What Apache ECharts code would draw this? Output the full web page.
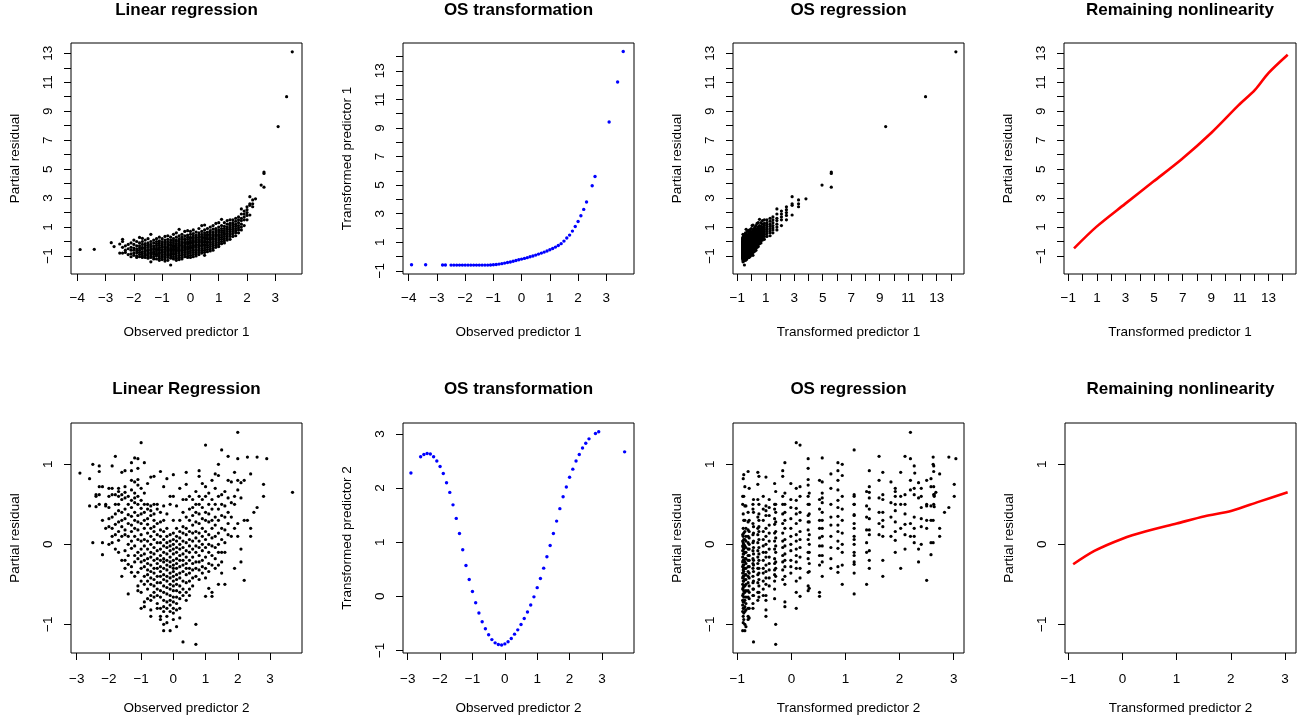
<!DOCTYPE html>
<html><head><meta charset="utf-8">
<script src="https://cdn.jsdelivr.net/npm/echarts@6/dist/echarts.min.js"></script>
<style>html,body{margin:0;padding:0;background:#fff}#c{width:1315px;height:726px}</style>
</head><body><div id="c"></div>
<script>
// ---------- DATA ----------
// Predictor 1: observed value (0.1 grid) -> partial residuals
const p1Cols = [
 [-3.9,[-0.55]],[-3.4,[-0.54]],[-2.8,[-0.08]],[-2.7,[-0.35]],
 [-2.5,[-0.17,-0.8]],[-2.4,[0.15,0.0,-0.4,-0.8]],[-2.3,[-0.3,-0.6,-0.75]],[-2.2,[-0.2,-0.5,-0.9]],
 [-2.1,[-0.1,-0.4,-0.6,-0.85,-1.05]],[-2.0,[0.1,-0.2,-0.45,-0.6,-0.8,-0.95]],
 [-1.9,[0.0,-0.3,-0.5,-0.65,-0.8,-1.0,-1.1]],[-1.8,[0.28,-0.1,-0.3,-0.45,-0.6,-0.75,-0.9,-1.05]],
 [-1.7,[0.22,0.0,-0.2,-0.4,-0.5,-0.7,-0.85,-1.0,-1.1]],[-1.6,[0.1,-0.15,-0.3,-0.45,-0.6,-0.7,-0.85,-0.95,-1.1]],
 [-1.5,[0.2,-0.1,-0.25,-0.4,-0.55,-0.65,-0.8,-0.9,-1.0,-1.15]],
 [-1.4,[0.5,0.0,-0.2,-0.35,-0.5,-0.6,-0.75,-0.85,-1.0,-1.1,-1.4]],
 [-1.3,[0.1,-0.1,-0.3,-0.45,-0.55,-0.7,-0.8,-0.9,-1.05,-1.2]],
 [-1.2,[0.2,0.0,-0.15,-0.3,-0.45,-0.55,-0.65,-0.8,-0.9,-1.0,-1.2]],
 [-1.1,[0.3,0.05,-0.1,-0.25,-0.4,-0.5,-0.6,-0.75,-0.85,-1.0,-1.15,-1.3]],
 [-1.0,[0.2,0.0,-0.15,-0.3,-0.4,-0.55,-0.65,-0.75,-0.9,-1.0,-1.1,-1.25]],
 [-0.9,[0.35,0.1,-0.05,-0.2,-0.35,-0.45,-0.55,-0.7,-0.8,-0.9,-1.05,-1.2,-1.35]],
 [-0.8,[0.4,0.15,0.0,-0.15,-0.3,-0.4,-0.5,-0.6,-0.7,-0.85,-0.95,-1.1,-1.3]],
 [-0.7,[0.3,0.1,-0.05,-0.2,-0.3,-0.45,-0.55,-0.65,-0.8,-0.9,-1.0,-1.15,-1.62]],
 [-0.6,[0.5,0.2,0.05,-0.1,-0.25,-0.35,-0.45,-0.55,-0.65,-0.8,-0.9,-1.05,-1.2]],
 [-0.5,[0.6,0.3,0.1,0.0,-0.15,-0.3,-0.4,-0.5,-0.6,-0.7,-0.85,-1.0,-1.15,-1.3]],
 [-0.4,[0.84,0.4,0.2,0.05,-0.1,-0.2,-0.3,-0.45,-0.55,-0.65,-0.8,-0.95,-1.1,-1.25]],
 [-0.3,[0.5,0.3,0.15,0.0,-0.1,-0.25,-0.35,-0.45,-0.6,-0.7,-0.85,-0.95,-1.1,-1.2]],
 [-0.2,[0.7,0.4,0.2,0.1,-0.05,-0.15,-0.3,-0.4,-0.5,-0.6,-0.75,-0.9,-1.05]],
 [-0.1,[0.75,0.45,0.3,0.15,0.0,-0.1,-0.2,-0.35,-0.45,-0.55,-0.7,-0.85,-1.0,-1.1]],
 [0.0,[0.7,0.5,0.3,0.2,0.05,-0.05,-0.15,-0.3,-0.4,-0.5,-0.65,-0.8,-0.95,-1.1]],
 [0.1,[0.8,0.55,0.4,0.25,0.1,0.0,-0.1,-0.25,-0.35,-0.45,-0.6,-0.75,-0.9,-1.05]],
 [0.2,[0.65,0.45,0.3,0.2,0.05,-0.05,-0.2,-0.3,-0.4,-0.55,-0.7,-0.85,-1.0]],
 [0.3,[0.9,0.6,0.45,0.3,0.15,0.05,-0.05,-0.2,-0.3,-0.45,-0.6,-0.75,-0.9]],
 [0.4,[1.1,0.7,0.5,0.35,0.25,0.1,0.0,-0.1,-0.25,-0.35,-0.5,-0.65,-0.8]],
 [0.5,[1.14,0.8,0.6,0.45,0.3,0.2,0.05,-0.05,-0.2,-0.3,-0.45,-0.6,-0.75,-0.95]],
 [0.6,[0.9,0.65,0.5,0.4,0.25,0.15,0.0,-0.1,-0.25,-0.4,-0.55,-0.7]],
 [0.7,[1.0,0.75,0.6,0.45,0.3,0.2,0.1,-0.05,-0.2,-0.35,-0.5,-0.65]],
 [0.8,[1.1,0.85,0.65,0.5,0.4,0.25,0.15,0.0,-0.15,-0.3,-0.45,-0.6]],
 [0.9,[1.25,0.9,0.75,0.6,0.45,0.35,0.2,0.05,-0.1,-0.25,-0.4]],
 [1.0,[1.3,1.0,0.8,0.65,0.5,0.4,0.25,0.1,-0.05,-0.2,-0.35]],
 [1.1,[1.53,1.1,0.9,0.75,0.6,0.45,0.3,0.15,0.0,-0.15]],
 [1.2,[1.3,1.05,0.9,0.75,0.6,0.5,0.35,0.2,0.05,-0.1]],
 [1.3,[1.45,1.2,1.0,0.85,0.7,0.55,0.4,0.25,0.1]],
 [1.4,[1.5,1.25,1.1,0.95,0.8,0.65,0.5,0.35,0.15]],
 [1.5,[1.5,1.3,1.15,1.0,0.85,0.7,0.55,0.35]],
 [1.6,[1.6,1.4,1.2,1.05,0.9,0.75,0.6,0.4]],
 [1.7,[1.7,1.5,1.3,1.1,0.95,0.8,0.6]],
 [1.8,[2.25,1.9,1.6,1.45,1.2,1.0,0.8]],
 [1.9,[2.1,1.9,1.7,1.5,1.1]],
 [2.0,[2.4,2.2,2.0,1.8,1.5]],
 [2.1,[3.1,2.6,2.5,1.83]],
 [2.2,[2.87,2.6,2.4]],
 [2.3,[2.95]],
 [2.5,[3.9]],
 [2.6,[4.8,4.7,3.75]],
 [3.1,[7.94]],[3.4,[10.0]],[3.6,[13.1]]
];
// OS transformation of predictor 1
const os1X = [-3.9,-3.4,-2.8,-2.7,-2.5,-2.4,-2.3,-2.2,-2.1,-2.0,-1.9,-1.8,-1.7,-1.6,-1.5,-1.4,-1.3,-1.2,-1.1,-1.0,
 -0.9,-0.8,-0.7,-0.6,-0.5,-0.4,-0.3,-0.2,-0.1,0.0,0.1,0.2,0.3,0.4,0.5,0.6,0.7,0.8,0.9,1.0,
 1.1,1.2,1.3,1.4,1.5,1.6,1.7,1.8,1.9,2.0,2.1,2.2,2.3,2.5,2.6,3.1,3.4,3.6];
const os1Y = [-0.58,-0.58,-0.59,-0.59,-0.6,-0.6,-0.6,-0.6,-0.6,-0.6,-0.6,-0.6,-0.6,-0.6,-0.6,-0.6,-0.6,-0.6,-0.59,-0.58,
 -0.56,-0.53,-0.5,-0.46,-0.42,-0.38,-0.33,-0.28,-0.23,-0.18,-0.13,-0.08,-0.02,0.04,0.1,0.17,0.24,0.31,0.39,0.47,
 0.56,0.66,0.77,0.9,1.08,1.3,1.5,1.78,2.1,2.45,2.85,3.3,3.82,4.95,5.6,9.42,12.22,14.35];
// Remaining nonlinearity, predictor 1
const nl1X = [-0.6,0.98,2.97,4.95,6.93,9.03,10.9,12.06,13.0,14.35];
const nl1Y = [-0.47,1.03,2.6,4.14,5.68,7.53,9.4,10.47,11.63,12.9];

// Predictor 2: observed value (0.1 grid) -> partial residuals
const p2Cols = [
 [-2.9,[0.89]],[-2.6,[0.82,0.48]],[-2.5,[1.0,0.02]],[-2.4,[0.62,0.47,0.6]],
 [-2.3,[0.98,0.91,0.72,0.62,0.5]],[-2.2,[0.72,0.3,0.02,-0.13]],[-2.1,[0.5,0.2,0.48]],
 [-2.0,[0.7,0.6,0.46,0.32,0.22,0.0]],[-1.9,[0.98,0.7,0.62,0.34,0.2,0.1,0.02]],
 [-1.8,[1.1,0.62,0.5,0.38,0.25,0.12,-0.06]],[-1.7,[0.7,0.66,0.6,0.5,0.42,0.28,0.16,0.05,-0.1]],
 [-1.6,[0.9,0.62,0.56,0.4,0.3,0.22,0.1,-0.2,-0.4]],
 [-1.5,[0.92,0.72,0.65,0.58,0.44,0.32,0.18,0.12,-0.08,-0.2,-0.3]],
 [-1.4,[0.6,0.5,0.37,0.26,0.1,0.0,-0.14,-0.25,-0.62]],
 [-1.3,[1.02,0.92,0.8,0.68,0.55,0.46,0.35,0.24,0.16,0.04,-0.05,-0.28,-0.35]],
 [-1.2,[1.08,0.78,0.64,0.58,0.52,0.4,0.3,0.2,0.1,-0.02,-0.14,-0.22,-0.4]],
 [-1.1,[1.07,0.95,0.81,0.74,0.6,0.5,0.36,0.28,0.18,0.06,-0.1,-0.18,-0.35,-0.52,-0.58]],
 [-1.0,[1.27,0.7,0.55,0.45,0.38,0.26,0.12,0.04,-0.06,-0.14,-0.22,-0.3,-0.46,-0.6,-0.8]],
 [-0.9,[1.02,0.64,0.5,0.4,0.3,0.2,0.06,-0.02,-0.12,-0.2,-0.28,-0.4,-0.5,-0.72,-0.78]],
 [-0.8,[0.76,0.5,0.44,0.32,0.25,0.14,0.04,-0.06,-0.18,-0.24,-0.32,-0.38,-0.46,-0.56,-0.68]],
 [-0.7,[0.84,0.48,0.42,0.36,0.2,0.1,0.0,-0.1,-0.16,-0.26,-0.34,-0.42,-0.5,-0.64,-0.7,-0.82,-0.9]],
 [-0.6,[0.85,0.5,0.38,0.3,0.22,0.16,0.06,-0.04,-0.12,-0.2,-0.3,-0.36,-0.44,-0.52,-0.6,-0.66]],
 [-0.5,[0.5,0.44,0.26,0.12,0.02,-0.08,-0.18,-0.24,-0.3,-0.4,-0.48,-0.56,-0.64,-0.74,-0.8]],
 [-0.4,[0.91,0.4,0.28,0.18,0.1,0.02,-0.06,-0.14,-0.2,-0.28,-0.34,-0.4,-0.48,-0.58,-0.66,-0.8,-0.9,-0.94]],
 [-0.3,[0.72,0.48,0.3,0.16,0.06,-0.02,-0.1,-0.18,-0.22,-0.3,-0.38,-0.44,-0.52,-0.6,-0.7,-0.78,-0.84,-1.0,-1.08]],
 [-0.2,[0.82,0.38,0.2,0.1,0.02,-0.04,-0.12,-0.2,-0.26,-0.32,-0.4,-0.46,-0.54,-0.62,-0.72,-0.8,-0.9,-0.98]],
 [-0.1,[0.6,0.5,0.12,0.04,-0.02,-0.08,-0.16,-0.22,-0.28,-0.36,-0.42,-0.5,-0.56,-0.64,-0.7,-0.76,-0.84,-1.08]],
 [0.0,[0.87,0.6,0.3,0.14,0.06,0.0,-0.06,-0.12,-0.2,-0.26,-0.3,-0.34,-0.4,-0.46,-0.52,-0.58,-0.66,-0.72,-0.8,-0.86,-0.94]],
 [0.1,[0.48,0.2,0.1,0.04,-0.04,-0.1,-0.18,-0.24,-0.3,-0.38,-0.44,-0.5,-0.58,-0.66,-0.74,-0.82,-1.03]],
 [0.2,[0.7,0.3,0.16,0.08,0.0,-0.06,-0.14,-0.2,-0.28,-0.36,-0.42,-0.52,-0.6,-0.68,-0.8,-0.92]],
 [0.3,[0.56,0.4,0.22,0.14,0.04,-0.04,-0.12,-0.2,-0.26,-0.34,-0.46,-0.56,-0.64,-1.22]],
 [0.4,[0.9,0.75,0.56,0.34,0.2,0.12,0.02,-0.08,-0.16,-0.24,-0.3,-0.38,-0.48,-0.6,-0.7]],
 [0.5,[0.6,0.44,0.3,0.16,0.06,-0.02,-0.1,-0.2,-0.3,-0.36,-0.46,-0.56,-0.64]],
 [0.6,[0.56,0.46,0.36,0.24,0.14,0.04,-0.06,-0.16,-0.24,-0.32,-0.42,-0.52]],
 [0.7,[0.66,0.5,0.4,0.28,0.16,0.08,-0.02,-0.1,-0.22,-0.3,-0.4,-1.0,-1.25]],
 [0.8,[0.92,0.85,0.6,0.5,0.38,0.26,0.14,0.04,-0.04,-0.14,-0.22,-0.32,-0.44]],
 [0.9,[0.76,0.56,0.46,0.32,0.2,0.1,0.0,-0.08,-0.2,-0.28,-0.36]],
 [1.0,[1.24,0.72,0.6,0.4,0.3,0.16,0.06,-0.04,-0.16,-0.3,-0.42,-0.65]],
 [1.1,[0.64,0.5,0.38,0.28,0.12,0.0,-0.1,-0.24,-0.34,-0.55]],
 [1.2,[0.8,0.56,0.44,0.3,0.2,0.08,-0.02,-0.14,-0.26,-0.6,-0.65]],
 [1.3,[0.88,0.7,0.5,0.34,0.24,0.1,-0.04,-0.18,-0.3]],
 [1.4,[1.0,0.86,0.6,0.44,0.3,0.14,0.0,-0.1,-0.26,-0.5]],
 [1.5,[1.18,0.62,0.5,0.36,0.2,0.06,-0.1,-0.22,-0.36]],
 [1.6,[0.66,0.48,0.34,0.18,0.02,-0.1,-0.5]],
 [1.7,[1.1,0.8,0.58,0.4,0.26,0.12]],
 [1.8,[0.78,0.52,0.34,0.1]],
 [1.9,[0.9,0.6,0.5,0.2,-0.3]],
 [2.0,[1.4,1.07,0.8,0.68,0.26,0.1]],
 [2.1,[0.77,0.58,-0.06,-0.22]],
 [2.2,[0.8,0.3,-0.45]],
 [2.3,[1.09,0.3]],
 [2.4,[0.88,0.2,0.1]],
 [2.5,[0.4]],
 [2.6,[1.09,0.46]],
 [2.8,[0.75,0.6]],
 [2.9,[1.07]],
 [3.7,[0.65]]
];
// OS transformation of predictor 2
const os2X = [-2.9,-2.6,-2.5,-2.4,-2.3,-2.2,-2.1,-2.0,-1.9,-1.8,-1.7,-1.6,-1.5,-1.4,-1.3,-1.2,-1.1,-1.0,-0.9,-0.8,
 -0.7,-0.6,-0.5,-0.4,-0.3,-0.2,-0.1,0.0,0.1,0.2,0.3,0.4,0.5,0.6,0.7,0.8,0.9,1.0,1.1,1.2,
 1.3,1.4,1.5,1.6,1.7,1.8,1.9,2.0,2.1,2.2,2.3,2.4,2.5,2.6,2.8,2.9,3.7];
const os2Y = [2.28,2.58,2.62,2.64,2.63,2.58,2.5,2.4,2.27,2.1,1.92,1.69,1.44,1.16,0.86,0.57,0.31,0.09,-0.12,-0.31,
 -0.47,-0.6,-0.71,-0.8,-0.86,-0.89,-0.9,-0.88,-0.84,-0.78,-0.7,-0.62,-0.52,-0.41,-0.29,-0.16,-0.01,0.16,0.33,0.52,
 0.73,0.94,1.16,1.39,1.62,1.84,2.02,2.2,2.35,2.5,2.62,2.74,2.83,2.91,3.01,3.04,2.67];
// Remaining nonlinearity, predictor 2
const nl2X = [-0.91,-0.51,0.0,0.42,1.0,1.52,2.02,2.51,3.05];
const nl2Y = [-0.25,-0.08,0.07,0.16,0.26,0.35,0.42,0.53,0.65];

// Tick values and tick labels
const ticksX1 = [-4,-3,-2,-1,0,1,2,3];
const ticksY13 = [-1,0,1,2,3,4,5,6,7,8,9,10,11,12,13];
const ticksY14 = [-1,0,1,2,3,4,5,6,7,8,9,10,11,12,13,14];
const ticksX14 = [-1,0,1,2,3,4,5,6,7,8,9,10,11,12,13,14];
const labelsOdd = [-1,1,3,5,7,9,11,13];
const ticksX2 = [-3,-2,-1,0,1,2,3];
const ticksT2 = [-1,0,1,2,3];
const ticksR2 = [-1,0,1];

// ---------- BUILD ----------
const FONT = '"Liberation Sans", Arial, Helvetica, sans-serif';
function flat(cols){ const o=[]; cols.forEach(c=>c[1].forEach(y=>o.push([c[0],y]))); return o; }
function mapped(cols, tx, ty){
  const m = new Map(tx.map((x,i)=>[x.toFixed(1), ty[i]]));
  const o=[]; cols.forEach(c=>{ const t=m.get(c[0].toFixed(1)); if(t!==undefined) c[1].forEach(y=>o.push([t,y])); });
  return o;
}
function zip(a,b){ return a.map((x,i)=>[x,b[i]]); }
const fmt = v => String(v).replace('-', '\u2212');

const panels = [
 {box:[71,43,231,231], x:[-4.223,3.944], y:[-2.243,13.71], xt:ticksX1, xl:ticksX1, yt:ticksY13, yl:labelsOdd,
  title:'Linear regression', xn:'Observed predictor 1', yn:'Partial residual', data:flat(p1Cols), kind:'k'},
 {box:[403,43,231,231], x:[-4.202,3.981], y:[-1.224,14.95], xt:ticksX1, xl:ticksX1, yt:ticksY14, yl:labelsOdd,
  title:'OS transformation', xn:'Observed predictor 1', yn:'Transformed predictor 1', data:zip(os1X,os1Y), kind:'b'},
 {box:[733,43,231,231], x:[-1.302,14.92], y:[-2.243,13.71], xt:ticksX14, xl:labelsOdd, yt:ticksY13, yl:labelsOdd,
  title:'OS regression', xn:'Transformed predictor 1', yn:'Partial residual', data:mapped(p1Cols,os1X,os1Y), kind:'k'},
 {box:[1064,43,232,231], x:[-1.301,14.93], y:[-2.243,13.71], xt:ticksX14, xl:labelsOdd, yt:ticksY13, yl:labelsOdd,
  title:'Remaining nonlinearity', xn:'Transformed predictor 1', yn:'Partial residual', data:zip(nl1X,nl1Y), kind:'r'},
 {box:[71,423,231,230], x:[-3.177,3.994], y:[-1.359,1.516], xt:ticksX2, xl:ticksX2, yt:ticksR2, yl:ticksR2,
  title:'Linear Regression', xn:'Observed predictor 2', yn:'Partial residual', data:flat(p2Cols), kind:'k'},
 {box:[403,423,231,230], x:[-3.145,3.99], y:[-1.048,3.203], xt:ticksX2, xl:ticksX2, yt:ticksT2, yl:ticksT2,
  title:'OS transformation', xn:'Observed predictor 2', yn:'Transformed predictor 2', data:zip(os2X,os2Y), kind:'b'},
 {box:[733,423,231,230], x:[-1.079,3.19], y:[-1.359,1.516], xt:ticksT2, xl:ticksT2, yt:ticksR2, yl:ticksR2,
  title:'OS regression', xn:'Transformed predictor 2', yn:'Partial residual', data:mapped(p2Cols,os2X,os2Y), kind:'k'},
 {box:[1065,423,231,230], x:[-1.061,3.204], y:[-1.359,1.516], xt:ticksT2, xl:ticksT2, yt:ticksR2, yl:ticksR2,
  title:'Remaining nonlinearity', xn:'Transformed predictor 2', yn:'Partial residual', data:zip(nl2X,nl2Y), kind:'r'}
];

const grid=[], xAxis=[], yAxis=[], series=[], graphic=[];
panels.forEach((p,i)=>{
  const [l,t,w,h] = p.box;
  const bottomRow = t > 300;
  grid.push({left:l, top:t, width:w, height:h, show:true, borderColor:'#000', borderWidth:1, backgroundColor:'transparent'});
  const lab = {color:'#000', fontSize:13.5, fontFamily:FONT};
  xAxis.push({type:'value', gridIndex:i, min:p.x[0], max:p.x[1],
    axisLine:{show:false, onZero:false}, splitLine:{show:false},
    axisTick:{show:true, inside:false, length:7, customValues:p.xt, lineStyle:{color:'#000', width:1}},
    axisLabel:Object.assign({show:true, customValues:p.xl, margin: bottomRow?19:17.5, formatter:fmt}, lab),
    name:p.xn, nameLocation:'middle', nameGap: bottomRow?48.5:51, nameTextStyle:Object.assign({}, lab)});
  yAxis.push({type:'value', gridIndex:i, min:p.y[0], max:p.y[1],
    axisLine:{show:false, onZero:false}, splitLine:{show:false},
    axisTick:{show:true, inside:false, length:7, customValues:p.yt, lineStyle:{color:'#000', width:1}},
    axisLabel:Object.assign({show:true, customValues:p.yl, margin:16, rotate:90, formatter:fmt}, lab),
    name:p.yn, nameLocation:'middle', nameGap:49, nameTextStyle:Object.assign({}, lab)});
  if (p.kind === 'r') {
    series.push({type:'line', xAxisIndex:i, yAxisIndex:i, data:p.data, showSymbol:false, smooth:0.3,
      lineStyle:{color:'#ff0000', width:2.6}, silent:true, animation:false});
  } else {
    series.push({type:'scatter', xAxisIndex:i, yAxisIndex:i, data:p.data,
      symbolSize: p.kind==='b'?3.4:3.2, itemStyle:{color: p.kind==='b'?'#0000ff':'#000', opacity:1},
      silent:true, animation:false});
  }
  graphic.push({type:'text', x:l + w/2, y: bottomRow?389.5:10.5,
    style:{text:p.title, fill:'#000', font:'bold 17px '+FONT, align:'center', verticalAlign:'middle'}});
});

const chart = echarts.init(document.getElementById('c'), null, {renderer:'canvas'});
chart.setOption({backgroundColor:'#fff', animation:false, grid, xAxis, yAxis, series, graphic});
</script>
</body></html>
